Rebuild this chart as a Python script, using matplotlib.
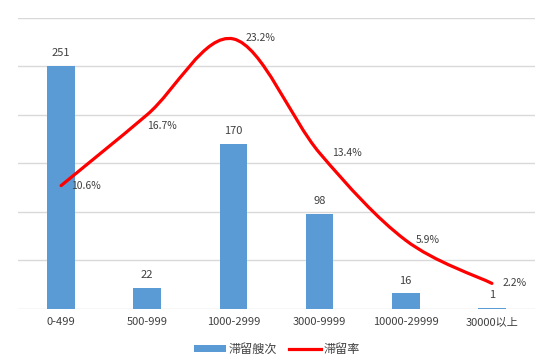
import matplotlib.pyplot as plt
import numpy as np
from matplotlib.path import Path
from matplotlib.patches import PathPatch, Patch
from matplotlib.lines import Line2D

plt.rcParams['font.family'] = ['Noto Sans CJK SC', 'DejaVu Sans']

categories = ["0-499", "500-999", "1000-2999", "3000-9999", "10000-29999", "30000以上"]
counts = [251, 22, 170, 98, 16, 1]
rates = [10.6, 16.7, 23.2, 13.4, 5.9, 2.2]
rate_labels = ["10.6%", "16.7%", "23.2%", "13.4%", "5.9%", "2.2%"]

BAR_C = "#5b9bd5"
LINE_C = "#ff0000"
GRID_C = "#d9d9d9"
TXT_C = "#404040"

fig = plt.figure(figsize=(5.54, 3.59), dpi=100)
ax = fig.add_axes([0.0325, 0.1393, 0.9332, 0.8106])
x = np.arange(len(categories))

ax.bar(x, counts, width=0.32, color=BAR_C, zorder=2)
ax.set_xlim(-0.5, len(categories) - 0.5)
ax.set_ylim(0, 300)
ax.set_yticks(np.arange(0, 301, 50))
ax.yaxis.grid(True, color=GRID_C, linewidth=1.0, zorder=0)
ax.set_axisbelow(True)
for s in ax.spines.values():
    s.set_visible(False)
ax.tick_params(axis='y', length=0, labelleft=False)
ax.tick_params(axis='x', length=0, pad=6)
ax.set_xticks(x)
ax.set_xticklabels(categories, fontsize=8, color=TXT_C)

for xi, c in zip(x, counts):
    ax.text(xi, c + 8, str(c), ha='center', va='bottom', fontsize=8, color=TXT_C)

# secondary axis for the rate line, smoothed like a spreadsheet "smooth line"
ax2 = ax.twinx()
ax2.set_ylim(0, 25)
ax2.set_xlim(ax.get_xlim())
ax2.axis('off')

pts = np.column_stack([x, rates]).astype(float)
ext = np.vstack([pts[0], pts, pts[-1]])
verts = [tuple(pts[0])]
codes = [Path.MOVETO]
for i in range(len(pts) - 1):
    p0, p1, p2, p3 = ext[i], ext[i + 1], ext[i + 2], ext[i + 3]
    c1 = p1 + (p2 - p0) / 6.0
    c2 = p2 - (p3 - p1) / 6.0
    verts += [tuple(c1), tuple(c2), tuple(p2)]
    codes += [Path.CURVE4] * 3
ax2.add_patch(PathPatch(Path(verts, codes), facecolor='none', edgecolor=LINE_C,
                        linewidth=2.3, capstyle='round', zorder=3))

offsets = [(0.12, 0), (0.0, -1.0), (0.14, 0.05), (0.14, 0), (0.12, 0), (0.12, 0)]
for xi, r, lab, (dx, dy) in zip(x, rates, rate_labels, offsets):
    ax2.text(xi + dx, r + dy, lab, ha='left', va='center', fontsize=7.5, color=TXT_C)

handles = [Patch(facecolor=BAR_C, edgecolor='none', label="滞留艘次"),
           Line2D([0], [0], color=LINE_C, linewidth=2.3, label="滞留率")]
fig.legend(handles=handles, loc='center', bbox_to_anchor=(0.5, 0.026), ncol=2,
           frameon=False, fontsize=8.7, handlelength=2.6, handleheight=0.5,
           handletextpad=0.25, columnspacing=1.0, labelcolor=TXT_C)

fig.savefig("out.png", dpi=100, facecolor='white')
